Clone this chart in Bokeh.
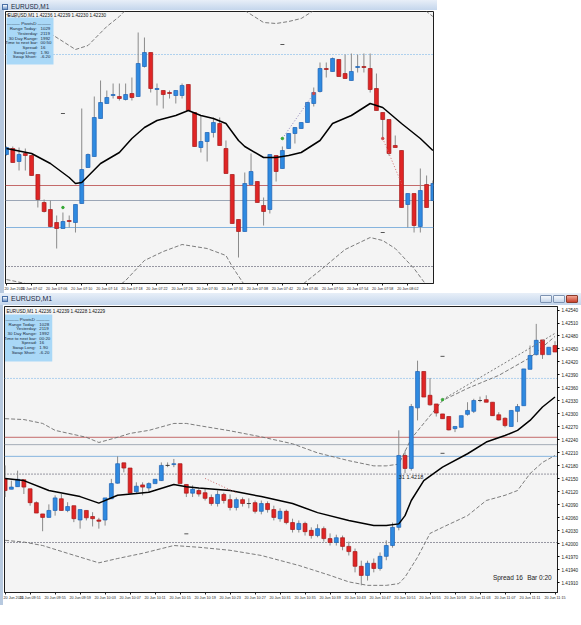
import numpy as np
from bokeh.plotting import figure
from bokeh.models import (ColumnDataSource, FixedTicker, PrintfTickFormatter,
                          Span, Label, BoxAnnotation, Div, Range1d)
from bokeh.layouts import column, row
from bokeh.embed import file_html
from bokeh.resources import INLINE

SCALE = 1e-5   # prices are stored in points (1 point = 0.00001)

symbol = "EURUSD,M1"
top_quote = "1.42236 1.42239 1.42230 1.42230"
bot_quote = "1.42236 1.42239 1.42228 1.42229"

# ---------------- top window (06:58 - 08:06) ----------------
top_open = [142277, 142283, 142270, 142278, 142276, 142257, 142229, 142222, 142209, 142203,
            142211, 142209, 142228, 142264, 142275, 142313, 142328, 142336, 142335, 142332,
            142338, 142335, 142365, 142379, 142342, 142341, 142339, 142336, 142336, 142347,
            142319, 142284, 142290, 142299, 142308, 142283, 142257, 142212, 142200, 142247,
            142250, 142226, 142222, 142276, 142263, 142283, 142298, 142303, 142309, 142328,
            142340, 142363, 142360, 142372, 142358, 142351, 142364, 142365, 142363, 142343,
            142319, 142312, 142286, 142281, 142227, 142238, 142205, 142247, 142231]
top_high = [142285, 142285, 142284, 142283, 142276, 142257, 142232, 142231, 142216, 142219,
            142216, 142227, 142323, 142278, 142335, 142351, 142341, 142348, 142348, 142348,
            142354, 142399, 142394, 142379, 142348, 142341, 142341, 142341, 142348, 142347,
            142319, 142316, 142299, 142314, 142314, 142291, 142257, 142212, 142259, 142278,
            142250, 142234, 142277, 142276, 142285, 142298, 142304, 142309, 142329, 142344,
            142369, 142369, 142374, 142372, 142377, 142378, 142377, 142378, 142378, 142358,
            142319, 142312, 142296, 142281, 142238, 142238, 142263, 142256, 142251]
top_low = [142276, 142269, 142261, 142261, 142256, 142224, 142219, 142204, 142183, 142203,
           142204, 142199, 142228, 142264, 142275, 142313, 142328, 142333, 142331, 142331,
           142331, 142335, 142364, 142339, 142326, 142323, 142333, 142328, 142333, 142321,
           142285, 142279, 142270, 142294, 142286, 142258, 142208, 142174, 142200, 142247,
           142229, 142206, 142218, 142250, 142263, 142283, 142288, 142303, 142309, 142325,
           142339, 142354, 142360, 142355, 142353, 142351, 142359, 142359, 142339, 142321,
           142293, 142276, 142284, 142224, 142204, 142199, 142199, 142224, 142231]
top_close = [142284, 142269, 142277, 142276, 142256, 142232, 142220, 142205, 142203, 142210,
             142210, 142227, 142262, 142277, 142314, 142329, 142334, 142337, 142333, 142337,
             142334, 142368, 142379, 142343, 142343, 142337, 142338, 142341, 142346, 142321,
             142285, 142290, 142299, 142309, 142286, 142258, 142208, 142200, 142248, 142260,
             142229, 142220, 142277, 142260, 142281, 142298, 142304, 142309, 142329, 142339,
             142363, 142362, 142373, 142355, 142353, 142360, 142365, 142364, 142342, 142321,
             142312, 142278, 142284, 142224, 142238, 142206, 142241, 142224, 142248]

top_ma_bar = [0, 4, 7, 10, 11, 12, 15, 18, 20, 22, 24, 27, 29, 31, 33, 35, 37, 38, 41, 43,
              45, 47, 50, 52, 55, 58, 60, 63, 66, 68]
top_ma = [142283, 142278, 142268, 142254, 142248, 142249, 142268, 142279, 142293, 142304,
          142311, 142316, 142321, 142316, 142313, 142308, 142291, 142285, 142274, 142274,
          142276, 142279, 142291, 142308, 142316, 142328, 142324, 142308, 142293, 142281]
top_env_up_bar = [0, 4, 7, 11, 13, 16, 18, 20, 24, 29, 34, 37, 41, 43, 45, 47, 50, 55, 58, 61,
                  64, 66, 68]
top_env_up = [142417, 142410, 142398, 142382, 142386, 142405, 142415, 142428, 142445, 142455,
              142442, 142425, 142409, 142408, 142410, 142413, 142425, 142450, 142462, 142456,
              142436, 142425, 142415]
top_env_lo_bar = [0, 3, 6, 12, 16, 19, 22, 25, 28, 32, 35, 36, 38, 42, 46, 50, 54, 58, 60, 62,
                  65, 67, 68]
top_env_lo = [142152, 142148, 142136, 142126, 142136, 142151, 142171, 142180, 142187, 142183,
              142176, 142165, 142146, 142131, 142141, 142161, 142182, 142194, 142191, 142183,
              142163, 142146, 142138]

top_levels = [142377, 142246, 142231, 142204, 142165]
top_time_bars = [0, 4, 8, 12, 16, 20, 24, 28, 32, 36, 40, 44, 48, 52, 56, 60, 64]
top_time_labels = ["20 Jun 2011", "20 Jun 07:02", "20 Jun 07:06", "20 Jun 07:10", "20 Jun 07:14",
                   "20 Jun 07:18", "20 Jun 07:22", "20 Jun 07:26", "20 Jun 07:30", "20 Jun 07:34",
                   "20 Jun 07:38", "20 Jun 07:42", "20 Jun 07:46", "20 Jun 07:50", "20 Jun 07:54",
                   "20 Jun 07:58", "20 Jun 08:02"]
top_dash_bar = [9, 44, 60]
top_dash = [142318, 142387, 142199]
top_green_bar = [9, 44]
top_green = [142224, 142293]
top_red_bar = [49, 60]
top_red = [142338, 142293]
top_trend1_bar = [44, 49]
top_trend1 = [142293, 142338]
top_trend2_bar = [60, 63]
top_trend2 = [142293, 142248]

# ---------------- bottom window (09:47 - 11:15) ----------------
bot_open = [142150, 142126, 142132, 142148, 142127, 142095, 142069, 142061, 142077, 142104,
            142077, 142088, 142055, 142077, 142063, 142055, 142055, 142104, 142140, 142187,
            142175, 142120, 142136, 142129, 142139, 142146, 142181, 142183, 142185, 142137,
            142117, 142123, 142118, 142107, 142093, 142114, 142102, 142084, 142102, 142093,
            142095, 142075, 142093, 142079, 142058, 142075, 142049, 142033, 142047, 142031,
            142019, 142035, 142012, 142003, 142014, 141994, 141982, 141948, 141927, 141955,
            141943, 141971, 141996, 142038, 142204, 142174, 142314, 142398, 142343, 142323,
            142300, 142294, 142266, 142269, 142299, 142306, 142331, 142333, 142327, 142298,
            142290, 142271, 142306, 142319, 142403, 142437, 142471, 142437, 142458]
bot_high = [142181, 142146, 142169, 142148, 142127, 142098, 142069, 142091, 142112, 142115,
            142096, 142088, 142079, 142077, 142073, 142060, 142106, 142150, 142202, 142187,
            142175, 142142, 142142, 142142, 142149, 142188, 142188, 142196, 142185, 142137,
            142135, 142128, 142128, 142114, 142123, 142118, 142114, 142107, 142107, 142105,
            142100, 142100, 142098, 142088, 142082, 142079, 142058, 142054, 142051, 142038,
            142045, 142040, 142024, 142021, 142019, 142005, 141989, 141961, 141961, 141966,
            141980, 142008, 142049, 142262, 142215, 142323, 142423, 142398, 142383, 142323,
            142300, 142294, 142271, 142296, 142327, 142335, 142340, 142343, 142327, 142304,
            142292, 142308, 142323, 142404, 142458, 142508, 142471, 142454, 142468]
bot_low = [142108, 142126, 142132, 142115, 142088, 142071, 142029, 142061, 142065, 142077,
           142073, 142050, 142035, 142054, 142040, 142035, 142042, 142104, 142139, 142165,
           142117, 142115, 142112, 142118, 142139, 142145, 142177, 142177, 142139, 142108,
           142108, 142109, 142100, 142088, 142086, 142093, 142077, 142077, 142086, 142082,
           142070, 142068, 142072, 142054, 142051, 142045, 142026, 142026, 142019, 142012,
           142015, 142005, 141996, 141996, 141985, 141973, 141934, 141904, 141915, 141934,
           141938, 141962, 141991, 142031, 142163, 142169, 142285, 142339, 142319, 142294,
           142289, 142262, 142258, 142269, 142296, 142302, 142327, 142327, 142296, 142285,
           142269, 142271, 142281, 142319, 142403, 142435, 142427, 142437, 142443]
bot_close = [142123, 142131, 142149, 142131, 142095, 142071, 142061, 142077, 142106, 142077,
             142086, 142058, 142079, 142060, 142058, 142052, 142106, 142139, 142185, 142175,
             142117, 142133, 142131, 142139, 142149, 142181, 142181, 142185, 142139, 142117,
             142126, 142115, 142105, 142093, 142114, 142100, 142084, 142102, 142093, 142093,
             142075, 142093, 142079, 142061, 142075, 142049, 142033, 142047, 142028, 142019,
             142035, 142012, 142003, 142014, 141994, 141982, 141948, 141927, 141955, 141943,
             141971, 141996, 142038, 142204, 142174, 142317, 142398, 142339, 142321, 142302,
             142289, 142263, 142271, 142296, 142308, 142331, 142331, 142327, 142296, 142286,
             142273, 142308, 142317, 142404, 142435, 142470, 142437, 142454, 142443]

bot_ma_bar = [0, 3, 7, 12, 15, 18, 21, 23, 27, 29, 31, 36, 41, 46, 50, 55, 59, 61, 63, 64,
              65, 67, 70, 74, 77, 80, 82, 84, 86, 88]
bot_ma = [142151, 142146, 142123, 142109, 142094, 142112, 142116, 142119, 142137, 142132,
          142129, 142123, 142109, 142093, 142072, 142054, 142042, 142042, 142046, 142065,
          142100, 142146, 142177, 142208, 142235, 142250, 142262, 142285, 142316, 142339]
bot_env_up_bar = [0, 3, 6, 8, 13, 15, 18, 20, 23, 27, 29, 31, 36, 41, 46, 50, 55, 59, 61, 63,
                  65, 70, 74, 79, 84, 88]
bot_env_up = [142289, 142287, 142278, 142262, 142246, 142234, 142246, 142255, 142262, 142278,
              142278, 142273, 142261, 142247, 142231, 142210, 142192, 142180, 142180, 142184,
              142243, 142331, 142359, 142389, 142430, 142479]
bot_env_lo_bar = [0, 3, 6, 10, 15, 18, 22, 27, 31, 36, 41, 47, 52, 55, 58, 61, 63, 64, 66, 68,
                  70, 74, 77, 80, 82, 84, 86, 88]
bot_env_lo = [142008, 142004, 141996, 141978, 141956, 141966, 141978, 141996, 141992, 141985,
              141973, 141950, 141927, 141912, 141904, 141904, 141908, 141923, 141969, 142024,
              142038, 142065, 142100, 142112, 142123, 142162, 142188, 142204]

bot_levels = [142382, 142246, 142229, 142202, 142161, 142003]
price_ticks = [1.42540, 1.42510, 1.42480, 1.42450, 1.42420, 1.42390, 1.42360, 1.42330,
               1.42300, 1.42270, 1.42240, 1.42210, 1.42180, 1.42150, 1.42120, 1.42090,
               1.42060, 1.42030, 1.42000, 1.41970, 1.41940, 1.41910]
bot_time_bars = [0, 4, 8, 12, 16, 20, 24, 28, 32, 36, 40, 44, 48, 52, 56, 60, 64, 68, 72, 76,
                 80, 84, 88]
bot_time_labels = ["20 Jun 2011", "20 Jun 09:51", "20 Jun 09:55", "20 Jun 09:59", "20 Jun 10:03",
                   "20 Jun 10:07", "20 Jun 10:11", "20 Jun 10:15", "20 Jun 10:19", "20 Jun 10:23",
                   "20 Jun 10:27", "20 Jun 10:31", "20 Jun 10:35", "20 Jun 10:39", "20 Jun 10:43",
                   "20 Jun 10:47", "20 Jun 10:51", "20 Jun 10:55", "20 Jun 10:59", "20 Jun 11:03",
                   "20 Jun 11:07", "20 Jun 11:11", "20 Jun 11:15"]
bot_dash_bar = [29, 70, 70]
bot_dash = [142023, 142433, 142209]
bot_green_bar = [70]
bot_green = [142333]
bot_trend_bar = [70, 88]
bot_trend = [142333, 142486]
bot_trend2_bar = [32, 37]
bot_trend2 = [142151, 142118]
line_note = "31  1.4218"
line_note_bar = 63
line_note_price = 142154
spread_text = "Spread  16"
bar_text = "Bar  0:20"

info_keys = ["Range  Today:", "Yesterday:", "30 Day Range:", "Time to next bar:",
             "Spread:", "Swap  Long:", "Swap  Short:"]
top_info_vals = ["1029", "2119", "1992", "00:50", "16", "1.90", "-6.20"]
bot_info_vals = ["1028", "2119", "1992", "00:20", "16", "1.90", "-6.20"]

# ---------------- styling ----------------
FONT = "Liberation Sans"
BLUE_FILL, BLUE_LINE = "#2f8ae0", "#1d62b4"
RED_FILL, RED_LINE = "#e02525", "#a41818"
DOJI = "#333333"
WICK = "#8a8a8a"
FRAME_BG = "#f4f4f4"


def px(v):
    return np.asarray(v, dtype=float) * SCALE


def make_fig(width, height, xr, yr, mb, yaxis):
    p = figure(width=width, height=height, x_range=Range1d(*xr), y_range=Range1d(*yr),
               output_backend="svg", toolbar_location=None,
               y_axis_location=("right" if yaxis else None),
               min_border_left=mb[0], min_border_right=mb[1],
               min_border_top=mb[2], min_border_bottom=mb[3])
    p.background_fill_color = FRAME_BG
    p.border_fill_color = "#ffffff"
    p.outline_line_color = "#1e1e1e"
    p.outline_line_width = 1
    p.xgrid.visible = False
    p.ygrid.visible = False
    return p


def style_xaxis(p, bars, labels):
    ax = p.xaxis[0]
    ax.ticker = FixedTicker(ticks=bars)
    ax.major_label_overrides = {b: lab for b, lab in zip(bars, labels)}
    ax.major_label_text_align = "left"
    ax.major_label_text_font = FONT
    ax.major_label_text_font_size = "3.7px"
    ax.major_label_text_color = "#1a1a1a"
    ax.major_label_standoff = 1
    ax.major_tick_out = 2
    ax.major_tick_in = 0
    ax.minor_tick_out = 0
    ax.axis_line_color = "#1e1e1e"
    ax.major_tick_line_color = "#1e1e1e"


def candles(p, o, h, l, c):
    o, h, l, c = px(o), px(h), px(l), px(c)
    x = np.arange(len(o))
    fill = np.where(c > o, BLUE_FILL, np.where(c < o, RED_FILL, DOJI))
    line = np.where(c > o, BLUE_LINE, np.where(c < o, RED_LINE, DOJI))
    src = ColumnDataSource(dict(x=x, top=np.maximum(o, c), bottom=np.minimum(o, c),
                                high=h, low=l, fill=fill, line=line))
    p.segment(x0="x", y0="low", x1="x", y1="high", source=src, line_color=WICK, line_width=1)
    p.vbar(x="x", width=0.62, top="top", bottom="bottom", source=src,
           fill_color="fill", line_color="line", line_width=0.7)


def levels(p, vals, colors, dashes):
    for v, col, d in zip(vals, colors, dashes):
        p.add_layout(Span(location=v * SCALE, dimension="width", line_color=col,
                          line_width=1, line_dash=d, level="underlay"))


def info_panel(p, X, Y, box, rows_y, key_x, val_x, vals):
    p.add_layout(BoxAnnotation(left=X(box[0]), right=X(box[1]), top=Y(box[2]), bottom=Y(box[3]),
                               fill_color="#a9d8f7", fill_alpha=1.0, line_color=None))
    fs = "4.4px"
    p.add_layout(Label(x=X((box[0] + box[1]) / 2), y=Y(rows_y[0]), text="———  PivotsD  ———",
                       text_align="center", text_baseline="middle", text_font=FONT,
                       text_font_size=fs, text_color="#1a2a3a"))
    for k, v, yy in zip(info_keys, vals, rows_y[1:]):
        p.add_layout(Label(x=X(key_x), y=Y(yy), text=k, text_align="right",
                           text_baseline="middle", text_font=FONT, text_font_size=fs,
                           text_color="#1a2a3a"))
        p.add_layout(Label(x=X(val_x), y=Y(yy), text=v, text_align="left",
                           text_baseline="middle", text_font=FONT, text_font_size=fs,
                           text_color="#1a2a3a"))


def title_bar(width, height, buttons, fs):
    icon = ('<span style="display:inline-block;width:6px;height:6px;margin:0 3px 0 2px;'
            'vertical-align:middle;background:linear-gradient(#ffffff,#6f95c8);'
            'border:1px solid #4a6fa5;box-sizing:border-box;"></span>')
    btns = ""
    if buttons:
        b = ("display:inline-block;width:12px;height:8px;margin-left:1px;border:1px solid #7d93b2;"
             "border-radius:1px;box-sizing:border-box;background:linear-gradient(#f6f9fd,#c6d6ea);")
        r = ("display:inline-block;width:12px;height:8px;margin-left:1px;border:1px solid #8a3a2a;"
             "border-radius:1px;box-sizing:border-box;background:linear-gradient(#f3a593,#c7412d);")
        btns = ('<span style="position:absolute;right:3px;top:2px;display:flex;">'
                f'<span style="{b}"></span><span style="{b}"></span><span style="{r}"></span></span>')
    html = (f'<div style="position:relative;width:{width}px;height:{height}px;'
            f'line-height:{height}px;font-family:\'Liberation Sans\',Arial,sans-serif;'
            f'font-size:{fs}px;color:#1b2b44;white-space:nowrap;overflow:hidden;">'
            f'{icon}<span style="vertical-align:middle;">{symbol}</span>{btns}</div>')
    return Div(text=html, width=width, height=height, margin=0,
               styles={"background": "linear-gradient(#e8eff8,#c4d6ec)", "overflow": "hidden"})


# ================= TOP CHART =================
# frame in page pixels: x 5..433, y 11..283
t_x0, t_ppb = -0.16, 428 / 68.26
t_ytop = 142420


def X1(pxv):
    return t_x0 + (pxv - 5) / t_ppb


def Y1(pyv):
    return (t_ytop - (pyv - 11)) * SCALE


p1 = make_fig(433, 283, (t_x0, 68.1), (Y1(283), Y1(11)), (1, 4, 1, 10), False)
style_xaxis(p1, top_time_bars, top_time_labels)
levels(p1, top_levels, ["#6aaee8", "#c46a6a", "#9ba6b6", "#86b4de", "#3a3a50"],
       ["1 2", "solid", "solid", "solid", "1 2"])
p1.line(top_env_up_bar, px(top_env_up), line_color="#6e6e6e", line_width=0.9, line_dash="4 2")
p1.line(top_env_lo_bar, px(top_env_lo), line_color="#6e6e6e", line_width=0.9, line_dash="4 2")
candles(p1, top_open, top_high, top_low, top_close)
p1.line(top_ma_bar, px(top_ma), line_color="#000000", line_width=1.5)
p1.line(top_trend1_bar, px(top_trend1), line_color="#8a7fb8", line_width=1, line_dash="1 2")
p1.line(top_trend2_bar, px(top_trend2), line_color="#d07070", line_width=1, line_dash="1 2")
p1.scatter(top_dash_bar, px(top_dash), marker="dash", size=4, line_color="#555555")
p1.scatter(top_green_bar, px(top_green), marker="circle", size=2.5, color="#35a835")
p1.scatter(top_red_bar, px(top_red), marker="circle", size=2.5, color="#d04848")
p1.add_layout(Label(x=X1(7), y=Y1(14.5), text=f"{symbol}  {top_quote}", text_baseline="middle",
                    text_font=FONT, text_font_size="4.6px", text_color="#111111"))
info_panel(p1, X1, Y1, (6, 53, 17, 64), [23.3, 28.3, 33, 37.7, 42.3, 47, 51.7, 56.3],
           37.5, 40, top_info_vals)

# ================= BOTTOM CHART =================
# frame in page pixels: x 4..560, y 306..592
b_x0, b_ppb = -0.1, 556 / 88.5


def X2(pxv):
    return b_x0 + (pxv - 4) / b_ppb


def Y2(pyv):
    return (143255 - 2.31 * pyv) * SCALE


p2 = make_fig(578, 300, (b_x0, 88.4), (Y2(592), Y2(306)), (1, 21, 1, 13), True)
style_xaxis(p2, bot_time_bars, bot_time_labels)
ya = p2.yaxis[0]
ya.ticker = FixedTicker(ticks=price_ticks)
ya.formatter = PrintfTickFormatter(format="%.5f")
ya.major_label_text_font = FONT
ya.major_label_text_font_size = "4.6px"
ya.major_label_text_color = "#1a1a1a"
ya.major_label_standoff = 2
ya.major_tick_out = 2
ya.major_tick_in = 0
ya.minor_tick_out = 0
ya.axis_line_color = "#1e1e1e"

bot_level_colors = ["#6aaee8", "#c46a6a", "#a4acb6", "#86b4de", "#3a3a50", "#3a3a50"]
levels(p2, bot_levels, bot_level_colors, ["1 2", "solid", "solid", "solid", "1 2", "1 2"])
p2.line(bot_env_up_bar, px(bot_env_up), line_color="#6e6e6e", line_width=0.9, line_dash="4 2")
p2.line(bot_env_lo_bar, px(bot_env_lo), line_color="#6e6e6e", line_width=0.9, line_dash="4 2")
candles(p2, bot_open, bot_high, bot_low, bot_close)
p2.line(bot_ma_bar, px(bot_ma), line_color="#000000", line_width=1.5)
p2.line(bot_trend_bar, px(bot_trend), line_color="#7a7a7a", line_width=1, line_dash="2 2")
p2.line(bot_trend2_bar, px(bot_trend2), line_color="#d07070", line_width=1, line_dash="1 2")
p2.scatter(bot_dash_bar, px(bot_dash), marker="dash", size=4, line_color="#555555")
p2.scatter(bot_green_bar, px(bot_green), marker="circle", size=2.5, color="#35a835")
p2.add_layout(Label(x=line_note_bar, y=line_note_price * SCALE, text=line_note,
                    text_baseline="middle", text_font=FONT, text_font_size="5.5px",
                    text_color="#222222"))
p2.add_layout(Label(x=X2(527), y=Y2(577), text=spread_text, text_align="right",
                    text_baseline="middle", text_font=FONT, text_font_size="6.5px",
                    text_color="#222222"))
p2.add_layout(Label(x=X2(556), y=Y2(577), text=bar_text, text_align="right",
                    text_baseline="middle", text_font=FONT, text_font_size="6.5px",
                    text_color="#222222"))
p2.add_layout(Label(x=X2(6), y=Y2(310.5), text=f"{symbol}  {bot_quote}", text_baseline="middle",
                    text_font=FONT, text_font_size="4.6px", text_color="#111111"))
info_panel(p2, X2, Y2, (4.5, 52, 314, 361), [319.3, 323.7, 328, 332.7, 337.7, 342.3, 347, 351.7],
           36.5, 39, bot_info_vals)
box_colors = ["#5aaaf0", "#e03030", "#111111", "#3c9be8", "#1a2a6c", "#1a2a6c"]
for v, col in zip(bot_levels, box_colors):
    p2.add_layout(Label(x=X2(561), y=v * SCALE, text=f"{v * SCALE:.5f}", text_align="left",
                        text_baseline="middle", text_font=FONT, text_font_size="4.6px",
                        text_color="#ffffff", background_fill_color=col))

# ================= layout =================
strip_top = Div(text="", width=4, height=283, margin=0, styles={"background": "#b7c9df"})
strip_bot = Div(text="", width=3, height=300, margin=0, styles={"background": "#b7c9df"})
layout = column(title_bar(437, 10, False, 6.5), row(strip_top, p1, spacing=0),
                title_bar(581, 12, True, 7), row(strip_bot, p2, spacing=0), spacing=0)

open("out.html", "w").write(file_html(layout, INLINE))
